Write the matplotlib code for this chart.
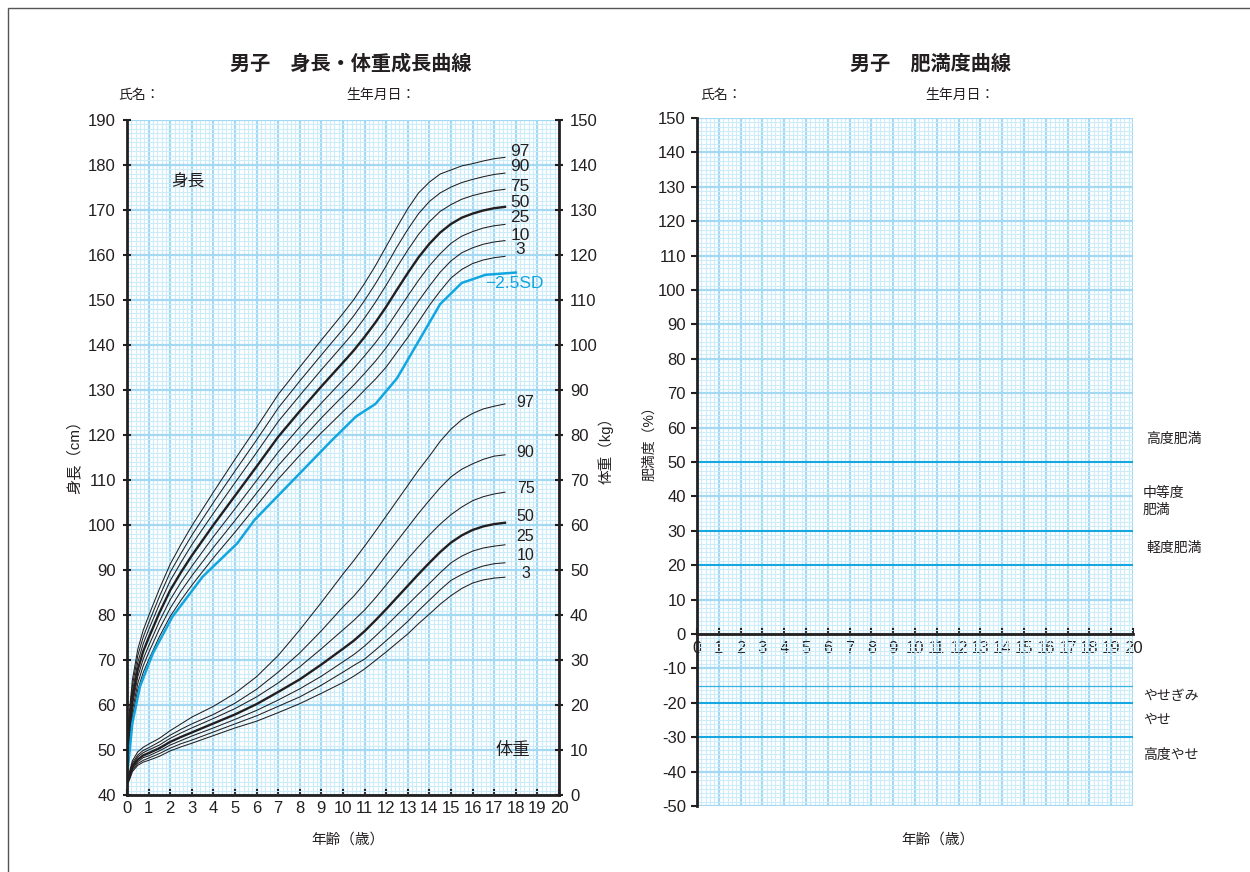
import numpy as np
import matplotlib.pyplot as plt
from matplotlib.patches import Rectangle

plt.rcParams['font.family'] = ['Liberation Sans', 'Noto Sans CJK JP']
plt.rcParams['axes.unicode_minus'] = False

# ages (years) for the percentile curves
ages = [0, 0.1, 0.25, 0.5, 0.75, 1, 1.5, 2, 2.5, 3, 4, 5, 6, 7, 8, 9, 10, 10.5, 11, 11.5,
        12, 12.5, 13, 13.5, 14, 14.5, 15, 15.5, 16, 16.5, 17, 17.5]

# height percentiles (cm)
height_p3 = [45.2, 50.1, 57.4, 63.4, 67.2, 70.0, 75.2, 79.7, 83.3, 86.6, 92.7, 98.4, 104.3, 110.2,
             115.5, 120.5, 125.2, 127.5, 130.0, 132.4, 135.1, 138.4, 141.7, 145.2, 148.8, 152.0,
             154.9, 156.8, 158.1, 158.9, 159.4, 159.7]
height_p10 = [46.4, 51.3, 58.7, 64.8, 68.7, 71.6, 76.9, 81.5, 85.3, 88.7, 95.0, 101.0, 107.1, 113.2,
              118.6, 123.8, 128.7, 131.1, 133.7, 136.4, 139.4, 142.8, 146.3, 149.8, 153.1, 156.2,
              158.7, 160.5, 161.6, 162.4, 162.9, 163.2]
height_p25 = [47.7, 52.6, 60.0, 66.3, 70.2, 73.1, 78.6, 83.4, 87.3, 90.8, 97.4, 103.6, 109.9, 116.2,
              121.8, 127.1, 132.2, 134.8, 137.6, 140.5, 143.7, 147.3, 150.9, 154.4, 157.6, 160.3,
              162.6, 164.2, 165.2, 166.0, 166.5, 166.8]
height_p50 = [49.0, 54.0, 61.5, 67.9, 71.9, 74.9, 80.5, 85.5, 89.5, 93.2, 100.0, 106.5, 113.0, 119.6,
              125.3, 130.8, 136.1, 138.8, 141.8, 145.0, 148.5, 152.3, 156.0, 159.5, 162.5, 165.0,
              166.9, 168.3, 169.2, 169.9, 170.4, 170.7]
height_p75 = [50.3, 55.4, 63.0, 69.5, 73.6, 76.7, 82.4, 87.6, 91.7, 95.6, 102.6, 109.4, 116.1, 123.0,
              128.8, 134.5, 140.0, 142.8, 146.0, 149.5, 153.3, 157.3, 161.1, 164.6, 167.4, 169.7,
              171.2, 172.4, 173.2, 173.8, 174.3, 174.6]
height_p90 = [51.6, 56.7, 64.3, 71.0, 75.1, 78.2, 84.1, 89.5, 93.7, 97.7, 105.0, 112.0, 118.9, 126.0,
              132.0, 137.8, 143.5, 146.5, 149.9, 153.6, 157.6, 161.8, 165.7, 169.2, 171.9, 173.8,
              175.1, 176.1, 176.8, 177.4, 177.9, 178.2]
height_p97 = [52.8, 58.0, 65.6, 72.4, 76.6, 79.8, 85.8, 91.3, 95.7, 99.8, 107.3, 114.6, 121.7, 129.0,
              135.1, 141.1, 147.0, 150.1, 153.7, 157.6, 161.9, 166.2, 170.3, 173.8, 176.2, 178.0,
              178.9, 179.8, 180.3, 180.9, 181.4, 181.7]

# height -2.5SD line
sd_ages = [0, 0.25, 0.6, 1.2, 2.1, 3.5, 5.1, 5.9, 7.7, 9.5, 10.6, 11.5, 12.5, 14.5, 15.5, 16.6, 18.0]
height_m25sd = [44.0, 56.0, 64.1, 71.5, 79.6, 88.5, 95.9, 101.1, 110.0, 118.9, 124.1, 126.9, 132.6,
                149.1, 153.8, 155.6, 156.1]

# weight percentiles (kg)
weight_p3 = [2.3, 3.2, 5.2, 6.6, 7.3, 7.7, 8.6, 9.8, 10.7, 11.5, 13.2, 14.9, 16.4, 18.3, 20.3, 22.6,
             25.0, 26.4, 28.0, 29.9, 31.8, 33.8, 35.8, 38.1, 40.2, 42.4, 44.3, 45.9, 47.1, 47.8,
             48.2, 48.4]
weight_p10 = [2.5, 3.4, 5.5, 7.0, 7.7, 8.2, 9.2, 10.4, 11.4, 12.2, 14.0, 15.8, 17.6, 19.7, 21.8, 24.4,
              27.3, 28.8, 30.2, 32.2, 34.3, 36.4, 38.6, 41.0, 43.3, 45.6, 47.7, 49.0, 50.1, 50.9,
              51.4, 51.6]
weight_p25 = [2.8, 3.7, 5.9, 7.4, 8.3, 8.7, 9.8, 11.1, 12.1, 13.1, 14.9, 16.8, 18.8, 21.1, 23.6, 26.4,
              29.6, 31.2, 33.1, 35.3, 37.6, 40.0, 42.3, 44.7, 47.0, 49.4, 51.6, 53.1, 54.2, 54.9,
              55.3, 55.6]
weight_p50 = [3.0, 4.0, 6.3, 7.9, 8.8, 9.3, 10.4, 11.8, 12.9, 13.9, 15.9, 17.9, 20.2, 22.9, 25.7, 29.0,
              32.5, 34.3, 36.4, 38.8, 41.3, 43.9, 46.5, 49.1, 51.6, 54.0, 56.1, 57.7, 58.9, 59.7,
              60.2, 60.5]
weight_p75 = [3.2, 4.3, 6.7, 8.5, 9.4, 10.0, 11.1, 12.6, 13.8, 14.9, 17.0, 19.2, 21.8, 24.9, 28.5, 32.5,
              36.7, 38.8, 41.1, 43.8, 46.7, 49.6, 52.5, 55.2, 57.8, 60.2, 62.3, 64.0, 65.4, 66.3,
              66.9, 67.3]
weight_p90 = [3.5, 4.6, 7.1, 8.9, 9.9, 10.5, 11.8, 13.3, 14.6, 15.8, 17.9, 20.4, 23.5, 27.3, 31.6, 36.5,
              41.8, 44.2, 47.0, 50.1, 53.3, 56.4, 59.5, 62.6, 65.5, 68.3, 70.7, 72.4, 73.6, 74.6,
              75.3, 75.6]
weight_p97 = [3.8, 4.9, 7.6, 9.6, 10.6, 11.3, 12.6, 14.3, 15.8, 17.3, 19.7, 22.6, 26.3, 31.0, 36.7, 42.8,
              49.1, 52.1, 55.3, 58.6, 62.0, 65.4, 68.8, 72.2, 75.3, 78.6, 81.3, 83.4, 84.8, 85.8,
              86.4, 86.9]

pct_names = ['3', '10', '25', '50', '75', '90', '97']
height_curves = [height_p3, height_p10, height_p25, height_p50, height_p75, height_p90, height_p97]
weight_curves = [weight_p3, weight_p10, weight_p25, weight_p50, weight_p75, weight_p90, weight_p97]
# label heights (cm / kg)
height_label_y = [161.3, 164.4, 168.4, 171.6, 175.3, 179.6, 182.9]
weight_label_y = [49.3, 53.3, 57.4, 61.8, 68.2, 76.1, 87.2]

# obesity degree bands
obesity_lines = [50, 30, 20, -15, -20, -30]
obesity_labels = ['高度肥満', '中等度\n肥満', '軽度肥満', 'やせぎみ', 'やせ', '高度やせ']
obesity_label_y = [56.7, 38.6, 25.0, -18.0, -25.0, -35.2]

MAJOR = '#a3d9f2'
MINOR = '#cdecfa'
CYAN = '#12a6e0'
INK = '#231f20'

W, H = 1250, 872
fig = plt.figure(figsize=(W / 100, H / 100), dpi=100)


def px_axes(x0, y0, x1, y1):
    return fig.add_axes([x0 / W, 1 - y1 / H, (x1 - x0) / W, (y1 - y0) / H])


def ftext(x, y, s, **kw):
    fig.text(x / W, 1 - y / H, s, color=INK, **kw)


def paper(a, ymin, ymax, yminor):
    a.set_xlim(0, 20)
    a.set_ylim(ymin, ymax)
    a.set_xticks(np.arange(0, 21, 1))
    a.set_xticks(np.arange(0, 20.001, 0.2), minor=True)
    a.set_yticks(np.arange(ymin, ymax + 1, 10))
    a.set_yticks(np.arange(ymin, ymax + 0.001, yminor), minor=True)
    a.grid(which='minor', color=MINOR, lw=0.8)
    a.grid(which='major', color=MAJOR, lw=1.6)
    a.set_axisbelow(True)
    a.tick_params(which='minor', length=0)
    a.tick_params(which='major', labelsize=12, colors=INK, width=1.5)
    for s in a.spines.values():
        s.set_visible(False)


fig.add_artist(Rectangle((8 / W, -0.1), 1.2, 1.1 - 8 / H, transform=fig.transFigure,
                         fill=False, lw=1.0, ec='#555555'))

# ---- left: height / weight chart
ax = px_axes(127, 120, 559, 795)
paper(ax, 40, 190, 1)
ax.spines['left'].set_visible(True)
ax.spines['bottom'].set_visible(True)
for s in ('left', 'bottom'):
    ax.spines[s].set_linewidth(2)
    ax.spines[s].set_color(INK)
ax.tick_params(axis='y', direction='inout', length=6, pad=5)
ax.tick_params(axis='x', direction='in', length=4, pad=4)

wx = ax.twinx()
wx.set_ylim(0, 150)
wx.set_yticks(np.arange(0, 151, 10))
for s in wx.spines.values():
    s.set_visible(False)
wx.spines['right'].set_visible(True)
wx.spines['right'].set_linewidth(2)
wx.spines['right'].set_color(INK)
wx.tick_params(axis='y', direction='inout', length=6, pad=5, labelsize=12, colors=INK, width=1.5)

for name, hc, wc, hy, wy in zip(pct_names, height_curves, weight_curves, height_label_y, weight_label_y):
    lw = 1.7 if name == '50' else 0.75
    ax.plot(ages, hc, color=INK, lw=lw)
    wx.plot(ages, wc, color=INK, lw=lw)
    ax.text(18.2, hy, name, ha='center', va='center', fontsize=12.5, color=INK)
    wx.text(18.45, wy, name, ha='center', va='center', fontsize=11.5, color=INK)
ax.plot(sd_ages, height_m25sd, color=CYAN, lw=1.8)
ax.text(16.6, 153.6, '−2.5SD', ha='left', va='center', fontsize=12.5, color=CYAN)
ax.text(2.8, 176.2, '身長', ha='center', va='center', fontsize=12, color=INK)
wx.text(17.85, 10.0, '体重', ha='center', va='center', fontsize=12.5, color=INK)

ftext(351, 64, '男子　身長・体重成長曲線', ha='center', va='center', fontsize=14.5, fontweight='bold')
ftext(118, 95, '氏名：', ha='left', va='center', fontsize=10)
ftext(346, 95, '生年月日：', ha='left', va='center', fontsize=10)
ftext(74, 453, '身長（cm）', ha='center', va='center', fontsize=11, rotation=90)
ftext(606, 447, '体重（kg）', ha='center', va='center', fontsize=10.5, rotation=90)
ftext(348, 840, '年齢（歳）', ha='center', va='center', fontsize=10.5)

# ---- right: obesity degree chart
ob = px_axes(697, 118, 1133, 806)
paper(ob, -50, 150, 1.25)
ob.spines['left'].set_visible(True)
ob.spines['bottom'].set_visible(True)
ob.spines['bottom'].set_position(('data', 0))
for s in ('left', 'bottom'):
    ob.spines[s].set_linewidth(2)
    ob.spines[s].set_color(INK)
ob.tick_params(axis='y', direction='out', length=4, pad=4)
ob.tick_params(axis='x', direction='in', length=4, pad=5)

for v in obesity_lines:
    ob.plot([0, 20], [v, v], color=CYAN, lw=0.9 if v == -15 else 1.4, alpha=0.8 if v == -15 else 1)
for lab, ly in zip(obesity_labels, obesity_label_y):
    x0 = 20.62 if lab in ('高度肥満', '軽度肥満') else 20.45
    ob.text(x0, ly, lab, ha='left', va='center', fontsize=10, color=INK, clip_on=False,
            linespacing=1.25)

ftext(931, 64, '男子　肥満度曲線', ha='center', va='center', fontsize=14.5, fontweight='bold')
ftext(700, 95, '氏名：', ha='left', va='center', fontsize=10)
ftext(925, 95, '生年月日：', ha='left', va='center', fontsize=10)
ftext(649, 440, '肥満度（%）', ha='center', va='center', fontsize=10, rotation=90)
ftext(938, 840, '年齢（歳）', ha='center', va='center', fontsize=10.5)

fig.savefig('out.png', dpi=100)
